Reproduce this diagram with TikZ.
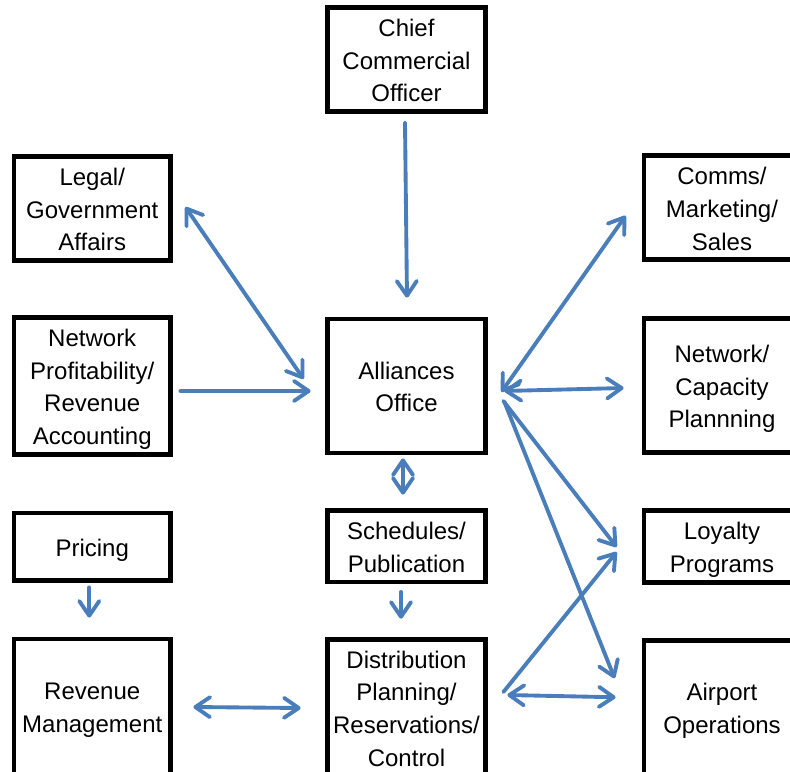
\documentclass[tikz,border=0pt]{standalone}
\usepackage{fontspec}
\setmainfont{Liberation Sans}
\usetikzlibrary{arrows.meta,calc}
\definecolor{arrowblue}{RGB}{74,126,187}
\newcommand{\btext}[1]{\raisebox{0pt}[\dimexpr\height+4.6pt\relax][\depth]{\begin{tabular}{@{}c@{}}#1\end{tabular}}}
\tikzset{
  box/.style={draw=black, line width=3.6pt, rectangle, inner sep=0pt, align=center,
    font=\fontsize{18}{24.5}\selectfont, text=black},
  colL/.style={minimum width=156.5*0.75pt},
  colM/.style={minimum width=158*0.75pt},
  colR/.style={minimum width=156*0.75pt},
  arr/.style={draw=arrowblue, line width=2.9pt, line cap=round,
    -{Straight Barb[length=11pt,width=15pt,line cap=round,line join=round]}},
  darr/.style={draw=arrowblue, line width=2.9pt, line cap=round,
    {Straight Barb[length=11pt,width=15pt,line cap=round,line join=round]}-{Straight Barb[length=11pt,width=15pt,line cap=round,line join=round]}}
}
\begin{document}
\begin{tikzpicture}[x=0.75pt,y=-0.75pt]
\useasboundingbox (0,0) rectangle (790,772);
\clip (0,0) rectangle (790,772);
% nodes
\node[box,colM,minimum height=100*0.75pt] (cco) at (406.5,59.5) {\btext{Chief\\Commercial\\Officer}};
\node[box,colL,minimum height=100*0.75pt] (legal) at (92.25,208.5) {\btext{Legal/\\Government\\Affairs}};
\node[box,colR,minimum height=99.5*0.75pt] (comms) at (722,207.75) {\btext{Comms/\\Marketing/\\Sales}};
\node[box,colL,minimum height=134*0.75pt] (npra) at (92.25,386) {\btext{Network\\Profitability/\\Revenue\\Accounting}};
\node[box,colM,minimum height=134*0.75pt] (all) at (406.5,386) {\btext{Alliances\\Office}};
\node[box,colR,minimum height=134*0.75pt] (netcap) at (722,385.5) {\btext{Network/\\Capacity\\Plannning}};
\node[box,colL,minimum height=67.5*0.75pt] (pricing) at (92.25,546.75) {\btext{Pricing}};
\node[box,colM,minimum height=67.5*0.75pt] (sched) at (406.5,546.25) {\btext{Schedules/\\Publication}};
\node[box,colR,minimum height=68*0.75pt] (loyal) at (722,546.5) {\btext{Loyalty\\Programs}};
\node[box,colL,minimum height=135*0.75pt] (rm) at (92.25,706.5) {\btext{Revenue\\Management}};
\node[box,colM,minimum height=133*0.75pt] (dist) at (406.5,707.5) {\btext{Distribution\\Planning/\\Reservations/\\Control}};
\node[box,colR,minimum height=133.5*0.75pt] (airport) at (722,707.25) {\btext{Airport\\Operations}};
% connectors
\draw[arr] ($(cco.south)+(-1.5,8.5)$) -- ($(all.north)+(0.5,-19)$);
\draw[darr] ($(legal.east)+(12.5,-1.5)$) -- ($(all.west)+(-21.5,-7)$);
\draw[arr] ($(npra.east)+(7.5,5)$) -- ($(all.west)+(-14.5,5)$);
\draw[darr] ($(all.east)+(13.5,6)$) -- ($(comms.west)+(-16,8)$);
\draw[darr] ($(all.east)+(16.5,5)$) -- ($(netcap.west)+(-18,2.5)$);
\draw[arr] ($(all.east)+(15.5,15)$) -- ($(loyal.west)+(-25,0.5)$);
\draw[arr] ($(all.east)+(16.5,16)$) -- ($(airport.west)+(-27,-29)$);
\draw[arr] ($(dist.east)+(15.5,-15.5)$) -- ($(loyal.west)+(-25,5.5)$);
\draw[darr] ($(dist.east)+(19.5,-12.5)$) -- ($(airport.west)+(-26,-10)$);
\draw[darr] ($(all.south)+(-3.5,3)$) -- ($(sched.north)+(-3.5,-13.5)$);
\draw[arr] ($(sched.south)+(-5.5,7.5)$) -- ($(dist.north)+(-5.5,-18)$);
\draw[arr] ($(pricing.south)+(-3,4.5)$) -- ($(rm.north)+(-3,-19)$);
\draw[darr] ($(rm.east)+(20.5,0.5)$) -- ($(dist.west)+(-24.5,0.5)$);
\end{tikzpicture}
\end{document}
